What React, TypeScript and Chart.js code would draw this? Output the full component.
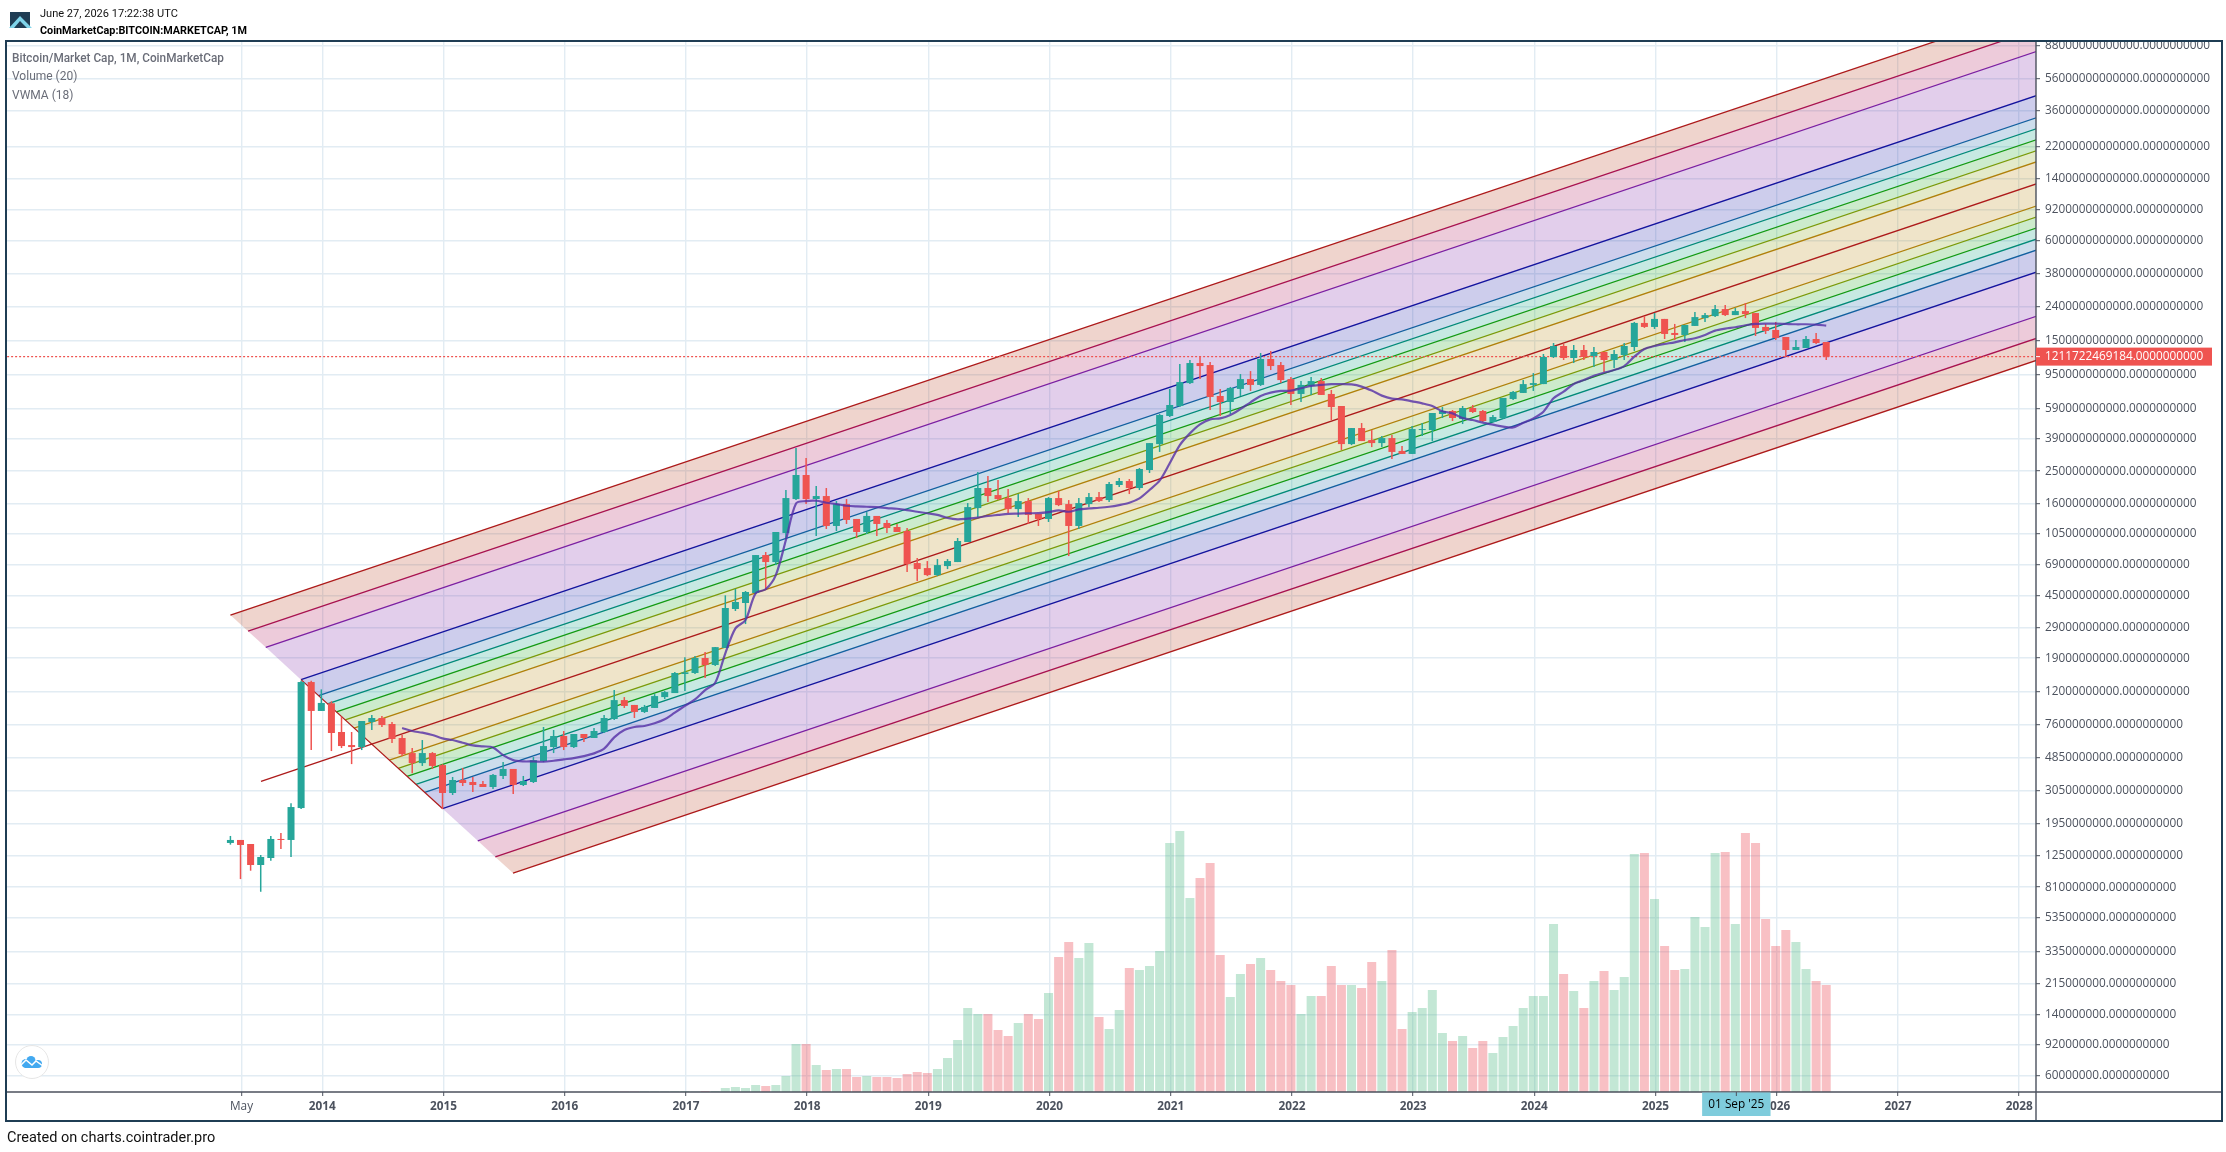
import React, { useEffect, useRef } from "react";
import { Chart, registerables } from "chart.js";

Chart.register(...registerables);

// Months are counted from January 2014 (0). First candle: April 2013 (-9).
const firstMonth = -9;

// log10 of market cap in USD, monthly candles
const openLog = [
  9.173, 9.191, 9.167, 9.041, 9.083, 9.197, 9.191, 9.382, 10.136, 9.963,
  10.009, 9.837, 9.759, 9.747, 9.897, 9.921, 9.885, 9.801, 9.711, 9.651,
  9.711, 9.639, 9.472, 9.55, 9.538, 9.526, 9.508, 9.574, 9.616, 9.52,
  9.538, 9.663, 9.747, 9.813, 9.747, 9.825, 9.801, 9.837, 9.915, 10.028,
  9.999, 9.957, 9.981, 10.046, 10.07, 10.184, 10.19, 10.28, 10.238, 10.34,
  10.573, 10.609, 10.669, 10.896, 10.854, 11.028, 11.231, 11.375, 11.231, 11.249,
  11.07, 11.201, 11.112, 11.034, 11.13, 11.088, 11.064, 11.04, 10.848, 10.818,
  10.776, 10.83, 10.854, 10.974, 11.177, 11.297, 11.255, 11.237, 11.171, 11.219,
  11.142, 11.112, 11.237, 11.201, 11.07, 11.201, 11.243, 11.225, 11.315, 11.339,
  11.297, 11.405, 11.56, 11.728, 11.788, 11.925, 12.045, 12.033, 11.848, 11.812,
  11.89, 11.949, 11.914, 12.069, 12.033, 11.949, 11.86, 11.908, 11.937, 11.86,
  11.788, 11.56, 11.656, 11.584, 11.566, 11.596, 11.519, 11.501, 11.644, 11.644,
  11.74, 11.758, 11.71, 11.776, 11.758, 11.692, 11.716, 11.83, 11.866, 11.914,
  11.919, 12.081, 12.147, 12.075, 12.123, 12.087, 12.111, 12.063, 12.093, 12.141,
  12.285, 12.261, 12.309, 12.225, 12.213, 12.267, 12.314, 12.326, 12.368, 12.332,
  12.356, 12.344, 12.261, 12.243, 12.201, 12.123, 12.135, 12.189, 12.171,
];
const highLog = [
  9.215, 9.191, 9.167, 9.101, 9.215, 9.233, 9.41, 10.144, 10.144, 10.092,
  10.021, 9.929, 9.837, 9.903, 9.939, 9.933, 9.897, 9.819, 9.741, 9.789,
  9.717, 9.645, 9.568, 9.622, 9.568, 9.544, 9.586, 9.657, 9.616, 9.574,
  9.687, 9.867, 9.849, 9.843, 9.825, 9.825, 9.861, 9.939, 10.088, 10.046,
  9.999, 9.999, 10.064, 10.082, 10.196, 10.284, 10.292, 10.316, 10.345, 10.655,
  10.693, 10.681, 10.896, 10.914, 11.034, 11.285, 11.536, 11.477, 11.309, 11.297,
  11.219, 11.231, 11.112, 11.153, 11.13, 11.106, 11.082, 11.058, 10.878, 10.86,
  10.872, 10.872, 10.998, 11.207, 11.393, 11.369, 11.345, 11.291, 11.261, 11.237,
  11.142, 11.243, 11.279, 11.225, 11.237, 11.267, 11.273, 11.333, 11.357, 11.351,
  11.417, 11.566, 11.74, 11.89, 12.039, 12.063, 12.087, 12.051, 11.89, 11.902,
  11.979, 11.997, 12.105, 12.117, 12.051, 11.961, 11.937, 11.961, 11.955, 11.884,
  11.788, 11.656, 11.686, 11.644, 11.608, 11.614, 11.548, 11.668, 11.686, 11.746,
  11.782, 11.764, 11.788, 11.794, 11.764, 11.734, 11.836, 11.878, 11.943, 11.985,
  12.099, 12.165, 12.159, 12.153, 12.153, 12.141, 12.111, 12.123, 12.165, 12.291,
  12.326, 12.344, 12.309, 12.279, 12.273, 12.35, 12.344, 12.392, 12.392, 12.374,
  12.404, 12.344, 12.279, 12.291, 12.201, 12.183, 12.207, 12.225, 12.171,
];
const lowLog = [
  9.163, 8.957, 9.007, 8.881, 9.067, 9.137, 9.089, 9.376, 9.729, 9.963,
  9.723, 9.741, 9.645, 9.729, 9.849, 9.867, 9.771, 9.693, 9.59, 9.634,
  9.616, 9.376, 9.46, 9.514, 9.478, 9.508, 9.496, 9.556, 9.466, 9.514,
  9.532, 9.657, 9.711, 9.729, 9.741, 9.777, 9.801, 9.831, 9.909, 9.981,
  9.921, 9.951, 9.981, 10.034, 10.07, 10.082, 10.184, 10.16, 10.232, 10.34,
  10.561, 10.483, 10.663, 10.687, 10.836, 10.998, 11.225, 11.201, 11.01, 11.052,
  11.04, 11.082, 10.998, 11.022, 11.01, 11.028, 11.034, 10.794, 10.741, 10.77,
  10.77, 10.812, 10.854, 10.974, 11.122, 11.213, 11.225, 11.147, 11.124, 11.082,
  11.07, 11.094, 11.189, 10.89, 11.052, 11.183, 11.213, 11.213, 11.303, 11.261,
  11.285, 11.387, 11.513, 11.722, 11.782, 11.919, 11.949, 11.764, 11.728, 11.74,
  11.848, 11.878, 11.908, 12.003, 11.925, 11.794, 11.812, 11.854, 11.854, 11.704,
  11.525, 11.554, 11.578, 11.542, 11.542, 11.471, 11.501, 11.501, 11.608, 11.578,
  11.716, 11.698, 11.68, 11.746, 11.692, 11.692, 11.71, 11.824, 11.866, 11.878,
  11.919, 12.075, 12.063, 12.045, 12.063, 12.021, 11.991, 12.015, 12.063, 12.117,
  12.255, 12.249, 12.189, 12.183, 12.171, 12.267, 12.291, 12.32, 12.326, 12.332,
  12.314, 12.207, 12.219, 12.183, 12.081, 12.123, 12.135, 12.159, 12.063,
];
const closeLog = [
  9.191, 9.161, 9.041, 9.089, 9.197, 9.191, 9.388, 10.136, 9.963, 10.011,
  9.831, 9.753, 9.747, 9.903, 9.921, 9.879, 9.795, 9.705, 9.651, 9.711,
  9.634, 9.472, 9.55, 9.532, 9.52, 9.508, 9.58, 9.616, 9.52, 9.544,
  9.669, 9.753, 9.813, 9.747, 9.825, 9.801, 9.843, 9.921, 10.028, 9.993,
  9.957, 9.987, 10.052, 10.076, 10.19, 10.194, 10.28, 10.238, 10.345, 10.579,
  10.615, 10.675, 10.896, 10.854, 11.034, 11.237, 11.375, 11.231, 11.249, 11.07,
  11.201, 11.106, 11.034, 11.13, 11.082, 11.058, 11.034, 10.842, 10.812, 10.776,
  10.836, 10.86, 10.98, 11.183, 11.297, 11.249, 11.231, 11.171, 11.219, 11.136,
  11.112, 11.237, 11.195, 11.07, 11.207, 11.243, 11.219, 11.321, 11.339, 11.297,
  11.411, 11.566, 11.734, 11.794, 11.931, 12.045, 12.027, 11.842, 11.812, 11.896,
  11.949, 11.914, 12.069, 12.027, 11.943, 11.86, 11.914, 11.937, 11.854, 11.782,
  11.56, 11.656, 11.578, 11.566, 11.596, 11.513, 11.501, 11.65, 11.65, 11.746,
  11.758, 11.716, 11.776, 11.752, 11.698, 11.722, 11.836, 11.872, 11.919, 11.925,
  12.081, 12.147, 12.075, 12.123, 12.081, 12.111, 12.063, 12.099, 12.147, 12.285,
  12.261, 12.309, 12.219, 12.213, 12.273, 12.32, 12.332, 12.368, 12.332, 12.356,
  12.338, 12.255, 12.237, 12.195, 12.123, 12.141, 12.189, 12.165, 12.083,
];

// Volume in billions of USD, April 2013 .. June 2026
const volumes = [
  0, 0, 0, 0, 0, 0, 0, 0, 0, 0,
  0, 0, 0, 0, 0, 0, 0, 0, 0, 0,
  0, 0, 0, 0, 0, 0, 0, 0, 0, 0,
  0, 0, 0, 0, 0, 0, 0, 2, 2, 2,
  2, 3, 3, 3, 4, 5, 2, 5, 5, 20,
  25, 20, 35, 30, 35, 80, 240, 240, 135, 110,
  115, 115, 75, 80, 75, 75, 70, 90, 100, 95,
  115, 170, 260, 420, 390, 390, 310, 280, 345, 390,
  365, 495, 675, 750, 670, 745, 375, 315, 410, 620,
  610, 630, 705, 1245, 1305, 970, 1070, 1145, 685, 475,
  590, 640, 670, 610, 555, 535, 390, 480, 480, 630,
  535, 535, 520, 650, 555, 710, 315, 400, 420, 510,
  295, 255, 280, 220, 255, 195, 275, 330, 420, 480,
  480, 840, 590, 505, 420, 555, 605, 510, 575, 1190,
  1195, 965, 730, 610, 615, 875, 825, 1195, 1200, 840,
  1295, 1245, 865, 730, 810, 750, 615, 555, 535,
];

// VWMA (18), log10 of USD, first value at month index 8
const vwmaFirstMonth = 8;
const vwmaLog = [
  9.861, 9.843, 9.833, 9.819, 9.799, 9.789, 9.773, 9.757, 9.751, 9.745,
  9.699, 9.669, 9.661, 9.661, 9.659, 9.665, 9.673, 9.681, 9.693, 9.709,
  9.737, 9.805, 9.849, 9.867, 9.873, 9.889, 9.913, 9.953, 9.993, 10.032,
  10.088, 10.132, 10.308, 10.457, 10.507, 10.667, 10.691, 10.776, 10.986, 11.205,
  11.219, 11.221, 11.209, 11.201, 11.191, 11.187, 11.185, 11.183, 11.177, 11.173,
  11.165, 11.155, 11.146, 11.136, 11.118, 11.11, 11.114, 11.12, 11.13, 11.136,
  11.142, 11.144, 11.146, 11.147, 11.153, 11.163, 11.155, 11.169, 11.175, 11.179,
  11.185, 11.195, 11.209, 11.235, 11.285, 11.341, 11.445, 11.554, 11.624, 11.678,
  11.708, 11.714, 11.734, 11.77, 11.81, 11.848, 11.868, 11.878, 11.88, 11.894,
  11.908, 11.914, 11.919, 11.919, 11.917, 11.904, 11.88, 11.85, 11.832, 11.828,
  11.816, 11.804, 11.788, 11.756, 11.744, 11.716, 11.704, 11.688, 11.676, 11.664,
  11.66, 11.688, 11.714, 11.754, 11.834, 11.874, 11.92, 11.943, 11.969, 11.987,
  12.003, 12.027, 12.083, 12.129, 12.147, 12.159, 12.169, 12.183, 12.193, 12.213,
  12.239, 12.251, 12.259, 12.271, 12.279, 12.281, 12.281, 12.279, 12.277, 12.277,
  12.275, 12.269,
];

const lastPrice = 1211722469184;

// Fibonacci channel, top line first: where each line starts on the diagonal and its value at fibEndMonth
const fibEndMonth = 170;
const fibStartMonths = [
  -9.1, -7.35, -5.6, -2.11, -0.36, 0.51, 1.4, 2.27, 3.14, 4.89,
  6.64, 7.51, 8.39, 9.27, 10.14, 11.89, 15.39, 17.13, 18.88,
];
const fibStartCaps = [
  3.44e10, 2.755e10, 2.206e10, 1.414e10, 1.133e10, 1.0134e10, 9.07e9, 8.12e9, 7.26e9, 5.815e9,
  4.66e9, 4.169e9, 3.731e9, 3.339e9, 2.988e9, 2.393e9, 1.535e9, 1.229e9, 9.84e8,
];
const fibEndCaps = [
  1.511e14, 1.1147e14, 8.226e13, 4.477e13, 3.304e13, 2.838e13, 2.438e13, 2.094e13, 1.798e13, 1.327e13,
  9.793e12, 8.411e12, 7.224e12, 6.206e12, 5.331e12, 3.934e12, 2.142e12, 1.58e12, 1.166e12,
];
const fibColors = [
  "#ad1a1a", "#a8124f", "#7b1fa2", "#14149e", "#12609f", "#008a78", "#129a12", "#7a9a08", "#b0800a", "#ad1a1a",
  "#b0800a", "#7a9a08", "#129a12", "#008a78", "#12609f", "#14149e", "#7b1fa2", "#a8124f", "#ad1a1a",
];
const fibTints = [
  "#b5391c", "#ad1457", "#7b1fa2", "#1a1aa8", "#1565a8", "#009a7b", "#17a317", "#7f9e0a", "#b8860b", "#b8860b",
  "#7f9e0a", "#17a317", "#009a7b", "#1565a8", "#1a1aa8", "#7b1fa2", "#ad1457", "#b5391c",
];
// The centre line reaches further left than the channel's diagonal edge
const centreStart = { month: -6.07, cap: 3.481e9 };
const centreIndex = 9;
const edgeTopIndex = 3;
const edgeBottomIndex = 15;

const yTicks = [
  88000000000000, 56000000000000, 36000000000000, 22000000000000, 14000000000000,
  9200000000000, 6000000000000, 3800000000000, 2400000000000, 1500000000000,
  950000000000, 590000000000, 390000000000, 250000000000, 160000000000,
  105000000000, 69000000000, 45000000000, 29000000000, 19000000000,
  12000000000, 7600000000, 4850000000, 3050000000, 1950000000,
  1250000000, 810000000, 535000000, 335000000, 215000000,
  140000000, 92000000, 60000000,
];
const xTickMonths = [-8, 0, 12, 24, 36, 48, 60, 72, 84, 96, 108, 120, 132, 144, 156, 168];
const xTickLabels = ["May", "2014", "2015", "2016", "2017", "2018", "2019", "2020", "2021", "2022", "2023", "2024", "2025", "2026", "2027", "2028"];
const crosshairMonth = 140;
const crosshairLabel = "01 Sep '25";

const UP = "#26a69a";
const DOWN = "#ef5350";
const AXIS = "#4c525e";
const GRID = "#e2ecf3";
const FRAME = "#1f3d54";
const TICK_FONT = "'Open Sans'";
const TICK_SIZE = 11.8;
const candleShift = -0.1;

const hexA = (hex: string, a: number) => {
  const n = parseInt(hex.slice(1), 16);
  return `rgba(${(n >> 16) & 255},${(n >> 8) & 255},${n & 255},${a})`;
};

const chromePlugin = {
  id: "chrome",
  beforeDatasetsDraw(chart: any) {
    const { ctx, chartArea: a, scales } = chart;
    const x = scales.x;
    const y = scales.y;
    ctx.save();
    ctx.beginPath();
    ctx.rect(a.left, a.top, a.right - a.left, a.bottom - a.top);
    ctx.clip();
    for (let i = 0; i < fibTints.length; i++) {
      ctx.fillStyle = hexA(fibTints[i], 0.22);
      ctx.beginPath();
      ctx.moveTo(x.getPixelForValue(fibStartMonths[i]), y.getPixelForValue(fibStartCaps[i]));
      ctx.lineTo(x.getPixelForValue(fibEndMonth), y.getPixelForValue(fibEndCaps[i]));
      ctx.lineTo(x.getPixelForValue(fibEndMonth), y.getPixelForValue(fibEndCaps[i + 1]));
      ctx.lineTo(x.getPixelForValue(fibStartMonths[i + 1]), y.getPixelForValue(fibStartCaps[i + 1]));
      ctx.closePath();
      ctx.fill();
    }
    ctx.restore();
  },
  afterDraw(chart: any) {
    const { ctx, chartArea: a, scales } = chart;
    const frameLeft = a.left - 1;
    const frameRight = chart.width - 4;
    const frameTop = a.top - 1;
    const frameBottom = chart.height - 31;
    ctx.save();
    // axis rules
    ctx.strokeStyle = AXIS;
    ctx.lineWidth = 1.4;
    ctx.beginPath();
    ctx.moveTo(a.left, a.bottom);
    ctx.lineTo(frameRight, a.bottom);
    ctx.moveTo(a.right, a.top);
    ctx.lineTo(a.right, frameBottom);
    ctx.stroke();
    // frame
    ctx.strokeStyle = FRAME;
    ctx.lineWidth = 2;
    ctx.strokeRect(frameLeft, frameTop, frameRight - frameLeft, frameBottom - frameTop);
    // last price tag
    const py = scales.y.getPixelForValue(lastPrice);
    ctx.fillStyle = DOWN;
    ctx.fillRect(a.right, py - 9, 176, 18);
    ctx.fillStyle = "#ffffff";
    ctx.font = `${TICK_SIZE}px ${TICK_FONT}`;
    ctx.textBaseline = "middle";
    ctx.textAlign = "left";
    ctx.fillRect(a.right, py - 0.5, 4, 1);
    ctx.fillText(`${lastPrice}.0000000000`, a.right + 9, py);
    // crosshair date tag
    const cx = scales.x.getPixelForValue(crosshairMonth);
    ctx.fillStyle = "#7fccdc";
    ctx.fillRect(cx - 34.2, a.bottom + 0.5, 68.4, 23.5);
    ctx.fillStyle = AXIS;
    ctx.fillRect(cx - 0.5, a.bottom, 1, 4);
    ctx.fillStyle = "#000000";
    ctx.textAlign = "center";
    ctx.fillText(crosshairLabel, cx, a.bottom + 13);
    ctx.restore();
  },
};

const textStyle = (left: number, centerY: number, size: number, color: string, weight = 400, squeeze = 1): React.CSSProperties => ({
  position: "absolute",
  left,
  top: centerY - size,
  height: size * 2,
  lineHeight: `${size * 2}px`,
  fontFamily: "Roboto",
  fontSize: size,
  fontWeight: weight,
  color,
  whiteSpace: "nowrap",
  transform: `scaleX(${squeeze})`,
  transformOrigin: "left center",
});

export default function App() {
  const ref = useRef<HTMLCanvasElement | null>(null);

  useEffect(() => {
    if (!ref.current) return;
    const months = openLog.map((_, i) => firstMonth + i);
    const up = openLog.map((o, i) => closeLog[i] >= o);

    const fibDatasets = fibColors.map((color, i) => ({
      type: "line" as const,
      label: `fib${i}`,
      order: 10,
      yAxisID: "y",
      borderColor: color,
      borderWidth: 1.3,
      pointRadius: 0,
      tension: 0,
      data: [
        i === centreIndex
          ? { x: centreStart.month, y: centreStart.cap }
          : { x: fibStartMonths[i], y: fibStartCaps[i] },
        { x: fibEndMonth, y: fibEndCaps[i] },
      ],
    }));

    const chart = new Chart(ref.current, {
      type: "line",
      plugins: [chromePlugin],
      data: {
        datasets: [
          {
            type: "bar",
            label: "Volume (20)",
            order: 12,
            yAxisID: "yVol",
            grouped: false,
            barThickness: 9,
            borderWidth: 0,
            inflateAmount: 0,
            backgroundColor: up.map((u) => (u ? "rgba(83,185,135,0.35)" : "rgba(235,75,86,0.35)")),
            data: months.map((m, i) => ({ x: m + candleShift, y: volumes[i] })),
          },
          ...fibDatasets,
          {
            type: "line",
            label: "channel edge",
            order: 9,
            yAxisID: "y",
            borderColor: "#ad1a1a",
            borderWidth: 1.2,
            pointRadius: 0,
            data: [
              { x: fibStartMonths[edgeTopIndex], y: fibStartCaps[edgeTopIndex] },
              { x: fibStartMonths[edgeBottomIndex], y: fibStartCaps[edgeBottomIndex] },
            ],
          },
          {
            type: "line",
            label: "last price",
            order: 8,
            yAxisID: "y",
            borderColor: DOWN,
            borderWidth: 1.2,
            borderDash: [2, 2],
            pointRadius: 0,
            data: [
              { x: -32, y: lastPrice },
              { x: fibEndMonth, y: lastPrice },
            ],
          },
          {
            type: "bar",
            label: "wicks",
            order: 5,
            yAxisID: "y",
            grouped: false,
            barThickness: 1.5,
            borderWidth: 0,
            inflateAmount: 0,
            backgroundColor: up.map((u) => (u ? UP : DOWN)),
            data: months.map((m, i) => ({ x: m + candleShift, y: [10 ** lowLog[i], 10 ** highLog[i]] })),
          },
          {
            type: "bar",
            label: "Bitcoin/Market Cap",
            order: 4,
            yAxisID: "y",
            grouped: false,
            barThickness: 7,
            borderWidth: 0,
            inflateAmount: 0,
            backgroundColor: up.map((u) => (u ? UP : DOWN)),
            data: months.map((m, i) => ({ x: m + candleShift, y: [10 ** openLog[i], 10 ** closeLog[i]] })),
          },
          {
            type: "line",
            label: "VWMA (18)",
            order: 2,
            yAxisID: "y",
            borderColor: "rgba(84,46,166,0.8)",
            borderWidth: 2.2,
            pointRadius: 0,
            tension: 0.3,
            data: vwmaLog.map((v, i) => ({ x: vwmaFirstMonth + i + candleShift, y: 10 ** v })),
          },
        ] as any,
      },
      options: {
        responsive: false,
        animation: false,
        events: [],
        layout: { padding: { left: 7, right: 4, top: 42, bottom: 32 } },
        plugins: { legend: { display: false }, tooltip: { enabled: false } },
        scales: {
          x: {
            type: "linear",
            offset: false,
            min: -31.22,
            max: 169.67,
            border: { display: false },
            grid: { offset: false, color: GRID, lineWidth: 1.4, tickColor: AXIS, tickLength: 4, tickWidth: 1 },
            afterBuildTicks: (axis: any) => {
              axis.ticks = xTickMonths.map((value) => ({ value }));
            },
            afterFit: (axis: any) => {
              axis.height = 28;
            },
            ticks: {
              autoSkip: false,
              maxRotation: 0,
              padding: 4,
              color: AXIS,
              font: (ctx: any) => ({
                family: TICK_FONT,
                size: TICK_SIZE,
                weight: ctx.tick && xTickLabels[xTickMonths.indexOf(ctx.tick.value)] === "May" ? "normal" : "bold",
              }),
              callback: (v: any) => xTickLabels[xTickMonths.indexOf(v)] ?? "",
            },
          },
          y: {
            type: "logarithmic",
            position: "right",
            min: 4.817e7,
            max: 9.25e13,
            border: { display: false },
            grid: { color: GRID, lineWidth: 1.4, tickColor: AXIS, tickLength: 4, tickWidth: 1 },
            afterBuildTicks: (axis: any) => {
              axis.ticks = yTicks.map((value) => ({ value }));
            },
            afterFit: (axis: any) => {
              axis.width = 186;
            },
            ticks: {
              autoSkip: false,
              padding: 5,
              color: AXIS,
              font: { family: TICK_FONT, size: TICK_SIZE },
              callback: (v: any) => `${v}.0000000000`,
            },
          },
          yVol: {
            type: "linear",
            display: false,
            min: 0,
            max: 5250,
          },
        },
      } as any,
    });
    return () => chart.destroy();
  }, []);

  return (
    <div style={{ position: "fixed", left: 0, top: 0, width: 2226, height: 1152, overflow: "hidden", background: "#fff" }}>
      <canvas ref={ref} width={2226} height={1152} style={{ position: "absolute", left: 0, top: 0, display: "block" }} />

      <svg style={{ position: "absolute", left: 9, top: 11 }} width={24} height={18} viewBox="0 0 24 18">
        <rect x="1" y="1" width="20" height="16" fill="#1f3d54" />
        <path d="M0 17 L11 5 L23 17 L18 17 L11 10 L5 17 Z" fill="#7fd4ea" />
      </svg>
      <div style={textStyle(40, 13, 11.5, "#111", 400, 0.96)}>June 27, 2026 17:22:38 UTC</div>
      <div style={textStyle(40, 30, 11.5, "#000", 700, 0.94)}>CoinMarketCap:BITCOIN:MARKETCAP, 1M</div>

      <div style={textStyle(12, 57, 12.5, "#6a6d78", 500, 0.943)}>Bitcoin/Market Cap, 1M, CoinMarketCap</div>
      <div style={textStyle(12, 75.5, 12.5, "#6a6d78", 400, 0.96)}>Volume (20)</div>
      <div style={textStyle(12, 94, 12.5, "#6a6d78", 400, 0.96)}>VWMA (18)</div>

      <svg style={{ position: "absolute", left: 14, top: 1044 }} width={36} height={36} viewBox="0 0 36 36">
        <circle cx="18" cy="18" r="16.5" fill="#fff" stroke="#e6e6e6" strokeWidth="1" />
        <circle cx="12" cy="19.5" r="4.5" fill="#42a9f0" />
        <circle cx="17" cy="16.5" r="4.5" fill="#42a9f0" />
        <circle cx="24" cy="20" r="4" fill="#42a9f0" />
        <rect x="11" y="19" width="13" height="5" fill="#42a9f0" />
        <polyline points="7,21 12,16 18,21 22,17 29,22" stroke="#fff" strokeWidth="1.5" fill="none" />
      </svg>

      <div style={textStyle(7, 1137.7, 14.5, "#111")}>Created on charts.cointrader.pro</div>
    </div>
  );
}
